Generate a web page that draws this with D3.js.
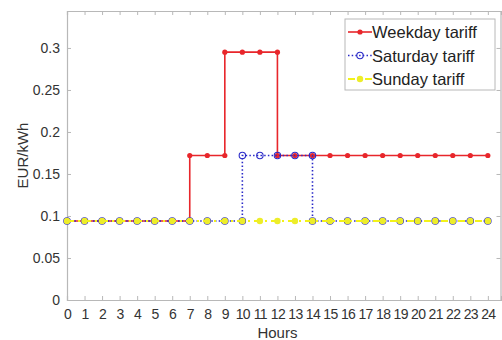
<!DOCTYPE html>
<html>
<head>
<meta charset="utf-8">
<script src="https://cdn.jsdelivr.net/npm/d3@7/dist/d3.min.js"></script>
<style>
  html, body { margin: 0; padding: 0; background: #fff; }
  svg { display: block; font-family: "Liberation Sans", Arial, sans-serif; }
</style>
</head>
<body>
<svg id="chart" width="502" height="340"></svg>
<script>
// Hourly electricity tariffs (EUR/kWh); repeated hours mark the step changes.
const weekdayHours  = [0,1,2,3,4,5,6,7,7,8,9,9,10,11,12,12,13,14,15,16,17,18,19,20,21,22,23,24];
const weekdayTariff = [0.094,0.094,0.094,0.094,0.094,0.094,0.094,0.094,0.172,0.172,0.172,0.295,0.295,0.295,0.295,0.172,0.172,0.172,0.172,0.172,0.172,0.172,0.172,0.172,0.172,0.172,0.172,0.172];

const saturdayHours  = [0,1,2,3,4,5,6,7,8,9,10,10,11,12,13,14,14,15,16,17,18,19,20,21,22,23,24];
const saturdayTariff = [0.094,0.094,0.094,0.094,0.094,0.094,0.094,0.094,0.094,0.094,0.094,0.172,0.172,0.172,0.172,0.172,0.094,0.094,0.094,0.094,0.094,0.094,0.094,0.094,0.094,0.094,0.094];

const sundayHours  = [0,1,2,3,4,5,6,7,8,9,10,11,12,13,14,15,16,17,18,19,20,21,22,23,24];
const sundayTariff = [0.094,0.094,0.094,0.094,0.094,0.094,0.094,0.094,0.094,0.094,0.094,0.094,0.094,0.094,0.094,0.094,0.094,0.094,0.094,0.094,0.094,0.094,0.094,0.094,0.094];

const xTicks = d3.range(0, 25);
const yTicks = [0, 0.05, 0.1, 0.15, 0.2, 0.25, 0.3];
const seriesNames = ["Weekday tariff", "Saturday tariff", "Sunday tariff"];

const margin = { left: 67, right: 1, top: 11, bottom: 40 };
const W = 502, H = 340;
const svg = d3.select("#chart");

const x = d3.scaleLinear().domain([0, 24.75]).range([margin.left, W - margin.right]);
const y = d3.scaleLinear().domain([0, 0.344]).range([H - margin.bottom, margin.top]);

const frameColor = "#b8b8b8";
const textColor = "#333";

// Axes with inward ticks
const xAxis = svg.append("g").attr("transform", `translate(0,${y(0)})`)
  .call(d3.axisBottom(x).tickValues(xTicks).tickSize(-4).tickPadding(9).tickFormat(d3.format("d")));
const xTop = svg.append("g").attr("transform", `translate(0,${y.range()[1]})`)
  .call(d3.axisTop(x).tickValues(xTicks).tickSize(-4).tickFormat(""));
const yAxis = svg.append("g").attr("transform", `translate(${x(0)},0)`)
  .call(d3.axisLeft(y).tickValues(yTicks).tickSize(-4).tickPadding(7).tickFormat(d => d3.format("")(d)));
const yRight = svg.append("g").attr("transform", `translate(${x.range()[1] - 0.5},0)`)
  .call(d3.axisRight(y).tickValues(yTicks).tickSize(-4).tickFormat(""));

[xAxis, xTop, yAxis, yRight].forEach(g => {
  g.select(".domain").attr("stroke", frameColor).attr("stroke-width", 1.2);
  g.selectAll(".tick line").attr("stroke", frameColor);
  g.selectAll(".tick text").attr("fill", textColor).attr("font-size", 14)
    .attr("font-family", "'Liberation Sans', Arial, sans-serif");
});
xAxis.selectAll(".tick text").attr("letter-spacing", -0.6);

// Axis titles
svg.append("text").attr("x", x(12)).attr("y", 338).attr("text-anchor", "middle")
  .attr("fill", textColor).attr("font-size", 15).text("Hours");
svg.append("text").attr("transform", `translate(28,${(y(0) + y.range()[1]) / 2}) rotate(-90)`)
  .attr("text-anchor", "middle").attr("fill", textColor).attr("font-size", 15).text("EUR/kWh");

const line = d3.line().x(d => x(d[0])).y(d => y(d[1]));
const zip = (a, b) => a.map((v, i) => [v, b[i]]);

const styles = [
  { data: zip(weekdayHours, weekdayTariff), stroke: "#e8262b", width: 1.6, dash: null,
    marker: { r: 2.6, fill: "#e8262b", stroke: "#e8262b", sw: 0 } },
  { data: zip(saturdayHours, saturdayTariff), stroke: "#2a2ac8", width: 1.6, dash: "1.5,2.2",
    marker: { r: 3.2, fill: "none", stroke: "#2a2ac8", sw: 1.1 } },
  { data: zip(sundayHours, sundayTariff), stroke: "#f2f21a", width: 2, dash: "7,4,2,4",
    marker: { r: 3.2, fill: "#eded2a", stroke: "#eded2a", sw: 0 } }
];

styles.forEach(s => {
  const g = svg.append("g");
  g.append("path").datum(s.data).attr("d", line).attr("fill", "none")
    .attr("stroke", s.stroke).attr("stroke-width", s.width)
    .attr("stroke-dasharray", s.dash);
  g.selectAll("circle").data(s.data).join("circle")
    .attr("cx", d => x(d[0])).attr("cy", d => y(d[1])).attr("r", s.marker.r)
    .attr("fill", s.marker.fill).attr("stroke", s.marker.stroke).attr("stroke-width", s.marker.sw);
});

// Legend
const lg = svg.append("g").attr("transform", "translate(345,19)");
lg.append("rect").attr("width", 150).attr("height", 71).attr("fill", "#fff")
  .attr("stroke", frameColor).attr("stroke-width", 1);
seriesNames.forEach((name, i) => {
  const s = styles[i];
  const cy = 13 + i * 23.5;
  lg.append("line").attr("x1", 3).attr("x2", 27).attr("y1", cy).attr("y2", cy)
    .attr("stroke", s.stroke).attr("stroke-width", s.width).attr("stroke-dasharray", s.dash);
  lg.append("circle").attr("cx", 15).attr("cy", cy).attr("r", s.marker.r)
    .attr("fill", s.marker.fill).attr("stroke", s.marker.stroke).attr("stroke-width", s.marker.sw);
  lg.append("text").attr("x", 27).attr("y", cy + 6).attr("font-size", 16.5)
    .attr("fill", "#222").text(name);
});
</script>
</body>
</html>
